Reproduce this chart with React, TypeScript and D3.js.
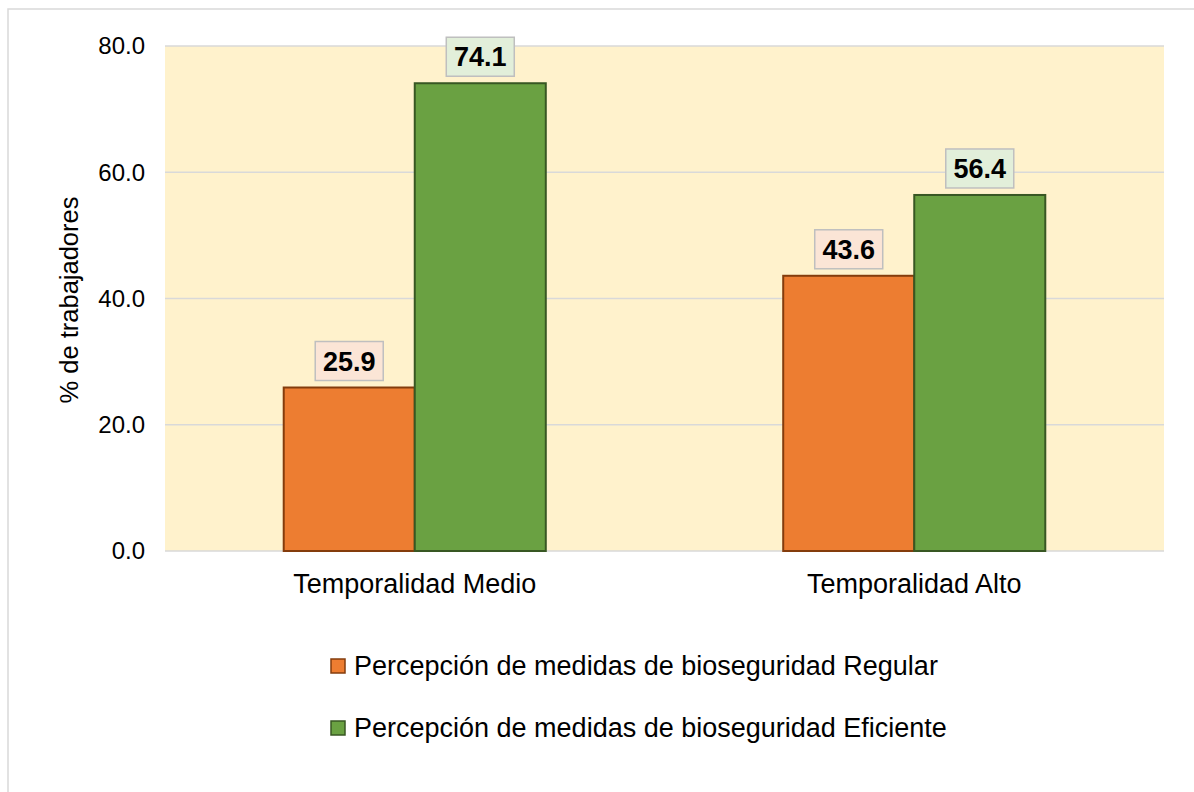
import React from "react";
import * as d3 from "d3";

const categories = ["Temporalidad Medio", "Temporalidad Alto"];
const seriesNames = [
  "Percepción de medidas de bioseguridad Regular",
  "Percepción de medidas de bioseguridad Eficiente",
];
const regularValues = [25.9, 43.6];
const eficienteValues = [74.1, 56.4];
const yTicks = [0, 20, 40, 60, 80];

const fills = ["#ED7D31", "#6AA142"];
const strokes = ["#843C0C", "#385723"];
const labelFills = ["#FBE5D6", "#E2EFDA"];

export default function App() {
  const W = 1194;
  const H = 792;
  const plotL = 165;
  const plotR = 1164;
  const plotT = 46;
  const plotB = 551;

  const y = d3.scaleLinear().domain([0, 80]).range([plotB, plotT]);
  const x0 = d3.scaleBand<string>().domain(categories).range([plotL, plotR]).padding(0);
  const x1 = d3
    .scaleBand<string>()
    .domain(seriesNames)
    .range([0, x0.bandwidth()])
    .paddingInner(0)
    .paddingOuter(0.906);

  const valuesBySeries = [regularValues, eficienteValues];
  const font = "Arial, 'Liberation Sans', sans-serif";

  return (
    <svg
      width={W}
      height={H}
      style={{ position: "absolute", left: 0, top: 0, background: "#fff" }}
      fontFamily={font}
    >
      <rect x={8} y={9} width={1200} height={800} fill="#fff" stroke="#D9D9D9" strokeWidth={1.5} />
      <rect x={plotL} y={plotT} width={plotR - plotL} height={plotB - plotT} fill="#FFF2CC" />
      {yTicks.map((t) => (
        <g key={t}>
          <line x1={plotL} x2={plotR} y1={y(t)} y2={y(t)} stroke="#D9D9D9" strokeWidth={1.5} />
          <text x={145} y={y(t)} dy="0.35em" textAnchor="end" fontSize={24} fill="#000">
            {t.toFixed(1)}
          </text>
        </g>
      ))}
      {categories.map((c, ci) => (
        <g key={c} transform={`translate(${x0(c)},0)`}>
          {seriesNames.map((s, si) => {
            const v = valuesBySeries[si][ci];
            const bx = x1(s)!;
            const bw = x1.bandwidth();
            return (
              <rect
                key={s}
                x={bx}
                y={y(v)}
                width={bw}
                height={y(0) - y(v)}
                fill={fills[si]}
                stroke={strokes[si]}
                strokeWidth={2}
              />
            );
          })}
          <text
            x={x0.bandwidth() / 2}
            y={584}
            dy="0.35em"
            textAnchor="middle"
            fontSize={27}
            fill="#000"
          >
            {c}
          </text>
        </g>
      ))}
      {categories.map((c, ci) =>
        seriesNames.map((s, si) => {
          const v = valuesBySeries[si][ci];
          const cx = x0(c)! + x1(s)! + x1.bandwidth() / 2;
          const bh = 39;
          const bw = 68;
          const by = y(v) - 7 - bh;
          return (
            <g key={c + s}>
              <rect
                x={cx - bw / 2}
                y={by}
                width={bw}
                height={bh}
                fill={labelFills[si]}
                stroke="#BFBFBF"
                strokeWidth={1.5}
              />
              <text
                x={cx}
                y={by + bh / 2}
                dy="0.36em"
                textAnchor="middle"
                fontSize={27}
                fontWeight="bold"
                fill="#000"
              >
                {v.toFixed(1)}
              </text>
            </g>
          );
        })
      )}
      <text
        transform={`translate(78,300) rotate(-90)`}
        textAnchor="middle"
        fontSize={25.5}
        fill="#000"
      >
        % de trabajadores
      </text>
      {seriesNames.map((s, si) => {
        const ly = [666, 728][si];
        return (
          <g key={s}>
            <rect
              x={331}
              y={ly - 7}
              width={14}
              height={14}
              fill={fills[si]}
              stroke={strokes[si]}
              strokeWidth={1.5}
            />
            <text x={354} y={ly} dy="0.35em" fontSize={27} fill="#000">
              {s}
            </text>
          </g>
        );
      })}
    </svg>
  );
}
